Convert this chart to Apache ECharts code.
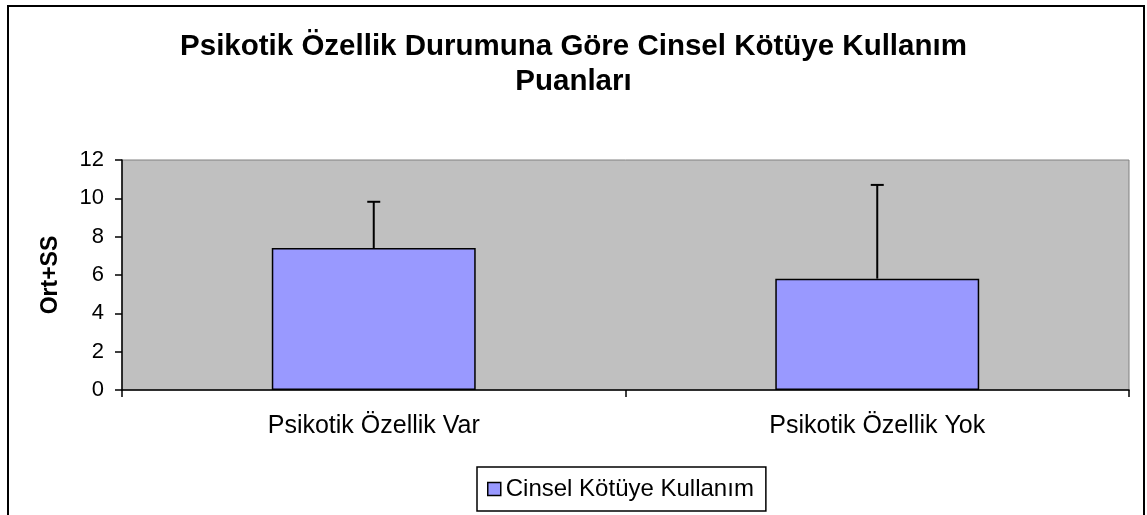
<!DOCTYPE html>
<html>
<head>
<meta charset="utf-8">
<script src="https://cdn.jsdelivr.net/npm/echarts@6/dist/echarts.min.js"></script>
<style>
  html, body { margin: 0; padding: 0; background: #fff; }
  #container { width: 1147px; height: 515px; }
</style>
</head>
<body>
<div id="container"></div>
<script>
// chart data
var categories = ['Psikotik Özellik Var', 'Psikotik Özellik Yok'];
var means = [7.41, 5.81];
var sds = [2.41, 4.89];
var yTicks = [0, 12, 2]; // min, max, step
var seriesName = 'Cinsel Kötüye Kullanım';

var font = 'Liberation Sans, Arial, sans-serif';

var errData = [];
for (var i = 0; i < means.length; i++) {
  errData.push([i, means[i], sds[i]]);
}

var dom = document.getElementById("container");
var myChart = echarts.init(dom);
var option = {
  animation: false,
  textStyle: { fontFamily: font },
  title: {
    text: 'Psikotik Özellik Durumuna Göre Cinsel Kötüye Kullanım\nPuanları',
    left: 'center',
    top: 24,
    textStyle: { fontSize: 29.5, fontWeight: 'bold', color: '#000', lineHeight: 35, fontFamily: font, align: 'center' }
  },
  graphic: [
    {
      type: 'rect',
      shape: { x: 8, y: 6, width: 1136, height: 530 },
      style: { fill: 'none', stroke: '#000', lineWidth: 2 },
      silent: true
    }
  ],
  grid: {
    left: 122,
    right: 18,
    top: 160,
    bottom: 125,
    show: true,
    backgroundColor: '#c0c0c0',
    borderColor: '#808080',
    borderWidth: 1
  },
  legend: {
    data: [seriesName],
    left: 477,
    top: 467,
    padding: [10, 12, 10, 10],
    borderColor: '#000',
    borderWidth: 1.5,
    itemWidth: 13,
    itemHeight: 13,
    icon: 'rect',
    itemStyle: { color: '#9999ff', borderColor: '#000', borderWidth: 1.5 },
    textStyle: { fontSize: 24, color: '#000', fontFamily: font }
  },
  xAxis: {
    type: 'category',
    data: categories,
    axisLine: { lineStyle: { color: '#000', width: 1.5 } },
    axisTick: { show: true, length: 7, lineStyle: { color: '#000', width: 1.5 } },
    axisLabel: { fontSize: 25, color: '#000', margin: 24, fontFamily: font },
    splitLine: { show: false }
  },
  yAxis: {
    type: 'value',
    min: yTicks[0],
    max: yTicks[1],
    interval: yTicks[2],
    name: 'Ort+SS',
    nameLocation: 'middle',
    nameGap: 60,
    nameTextStyle: { fontSize: 23, fontWeight: 'bold', color: '#000', fontFamily: font },
    axisLine: { show: true, lineStyle: { color: '#000', width: 1.5 } },
    axisTick: { show: true, length: 7, lineStyle: { color: '#000', width: 1.5 } },
    axisLabel: { fontSize: 22, color: '#000', margin: 18, fontFamily: font },
    splitLine: { show: false }
  },
  series: [
    {
      name: seriesName,
      type: 'bar',
      data: means,
      barWidth: '40.5%',
      itemStyle: { color: '#9999ff', borderColor: '#000', borderWidth: 1.5 }
    },
    {
      name: 'err',
      type: 'custom',
      data: errData,
      z: 5,
      renderItem: function (params, api) {
        var base = api.coord([api.value(0), api.value(1)]);
        var top = api.coord([api.value(0), api.value(1) + api.value(2)]);
        var cap = 6.5;
        var st = { stroke: '#000', lineWidth: 2 };
        return {
          type: 'group',
          children: [
            { type: 'line', shape: { x1: base[0], y1: base[1], x2: top[0], y2: top[1] }, style: st },
            { type: 'line', shape: { x1: top[0] - cap, y1: top[1], x2: top[0] + cap, y2: top[1] }, style: st }
          ]
        };
      }
    }
  ]
};
if (option && typeof option === "object") {
  myChart.setOption(option, true);
}
</script>
</body>
</html>
